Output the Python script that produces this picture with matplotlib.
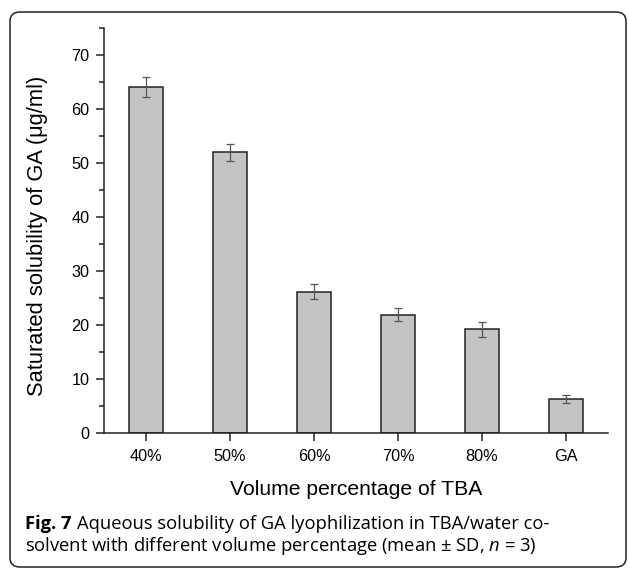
import numpy as np
import matplotlib.pyplot as plt
from matplotlib.patches import FancyBboxPatch
from matplotlib.ticker import MultipleLocator

# data
categories = ['40%', '50%', '60%', '70%', '80%', 'GA']
solubility = [64.1, 52.0, 26.2, 21.9, 19.2, 6.3]
sd = [1.8, 1.6, 1.35, 1.25, 1.35, 0.75]

plt.rcParams['font.family'] = ['Liberation Sans', 'DejaVu Sans']
plt.rcParams['mathtext.fontset'] = 'custom'
plt.rcParams['mathtext.it'] = 'Open Sans:italic'
plt.rcParams['mathtext.rm'] = 'Open Sans'

W, H = 629, 569
fig = plt.figure(figsize=(W / 100, H / 100), dpi=100)


def fx(px):
    return px / W


def fy(py):
    return 1 - py / H


# axes box: spine x 104..608, y 28..433 (pixels from top-left)
ax = fig.add_axes([fx(104), fy(433), fx(608) - fx(104), fy(28) - fy(433)])

x = np.arange(len(categories))
ax.bar(x, solubility, width=0.41, color='#c4c4c4', edgecolor='#222222', linewidth=1.1,
       zorder=2)
ax.errorbar(x, solubility, yerr=sd, fmt='none', ecolor='#555555', elinewidth=0.9,
            capsize=3, capthick=0.9, zorder=3)

ax.set_xlim(-0.5, 5.5)
ax.set_ylim(0, 75)
ax.set_xticks(x)
ax.set_xticklabels(categories)
ax.yaxis.set_major_locator(MultipleLocator(10))
ax.yaxis.set_minor_locator(MultipleLocator(5))
ax.tick_params(axis='both', which='major', direction='out', length=5.8, width=1.1,
               labelsize=11.7, color='#222222', pad=4.5)
ax.tick_params(axis='y', which='minor', direction='out', length=3.6, width=1.1,
               color='#222222')
ax.tick_params(axis='x', pad=6)

for side in ['top', 'right']:
    ax.spines[side].set_visible(False)
for side in ['left', 'bottom']:
    ax.spines[side].set_linewidth(1.1)
    ax.spines[side].set_color('#222222')

# axis titles placed in figure pixels
xlab = fig.text(fx(356), fy(495), 'Volume percentage of TBA', fontsize=14,
                ha='center', va='baseline')
ylab = fig.text(fx(38), fy(236), 'Saturated solubility of GA (\u03bcg/ml)', fontsize=14,
                rotation=90, ha='center', va='center')

# rounded frame around the figure panel
frame = FancyBboxPatch((fx(10), fy(567)), fx(626) - fx(10), fy(12) - fy(567),
                       boxstyle='round,pad=0,rounding_size=0.016',
                       transform=fig.transFigure, fill=False,
                       edgecolor='#222222', linewidth=1.1, clip_on=False)
fig.patches.append(frame)

# caption
cap_font = ['Open Sans', 'DejaVu Sans']
c1a = fig.text(fx(25), fy(529), 'Fig. 7', fontsize=12, fontweight='bold',
               family=cap_font, va='baseline')
c1b = fig.text(fx(80), fy(529),
               'Aqueous solubility of GA lyophilization in TBA/water co-',
               fontsize=12, family=cap_font, va='baseline')
c2 = fig.text(fx(25), fy(551),
              'solvent with different volume percentage (mean \u00b1 SD, $n$ = 3)',
              fontsize=12, family=cap_font, va='baseline')

# size the texts so their widths match the reference
fig.canvas.draw()
r = fig.canvas.get_renderer()
xlab.set_fontsize(14 * 254 / xlab.get_window_extent(r).width)
ylab.set_fontsize(14 * 322 / ylab.get_window_extent(r).height)

gap = 5
w1 = c1a.get_window_extent(r).width
w2 = c1b.get_window_extent(r).width
k = (558 - 25 - gap) / (w1 + w2) * 0.98
for t in (c1a, c1b, c2):
    t.set_fontsize(12 * k)
c1b.set_x(fx(25 + w1 * k + gap))

fig.savefig('out.png', dpi=100)
